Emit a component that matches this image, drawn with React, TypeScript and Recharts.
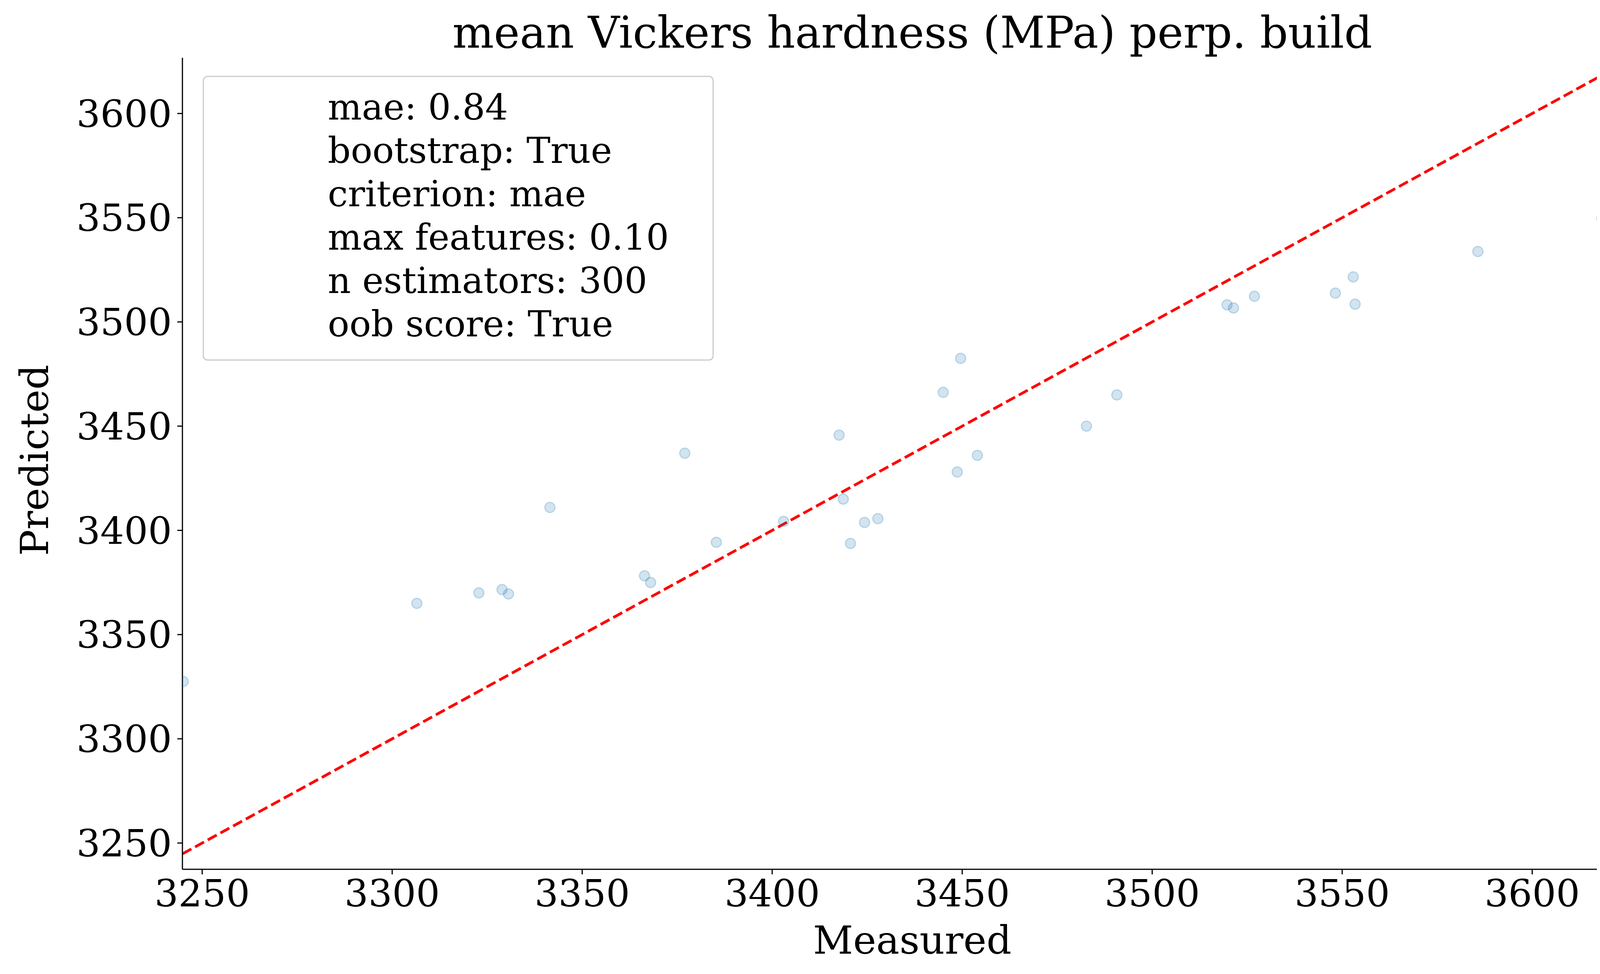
import React from "react";
import { ScatterChart, Scatter, XAxis, YAxis, ReferenceLine } from "recharts";

const measured = [
  3245, 3306.5, 3322.8, 3328.9, 3330.6, 3341.5, 3366.4, 3368, 3377, 3385.3, 3403,
  3417.6, 3418.7, 3420.6, 3424.3, 3427.8, 3445, 3448.7, 3449.6, 3454, 3482.7,
  3490.7, 3519.7, 3521.4, 3526.9, 3548.2, 3552.9, 3553.4, 3585.7, 3618.3, 3626,
];
const predicted = [
  3327.5, 3365, 3370, 3371.6, 3369.5, 3411, 3378.2, 3375, 3437, 3394.3, 3404.3,
  3445.7, 3415, 3393.7, 3403.8, 3405.6, 3466.2, 3428, 3482.5, 3436, 3450,
  3465, 3508.2, 3506.7, 3512.3, 3513.8, 3521.6, 3508.5, 3533.8, 3549.6, 3567,
];
const xTicks = [3250, 3300, 3350, 3400, 3450, 3500, 3550, 3600];
const yTicks = [3250, 3300, 3350, 3400, 3450, 3500, 3550, 3600];
const xDomain = [3244.8, 3627.4];
const yDomain = [3237.4, 3626.7];
const legendLines = [
  "mae: 0.84",
  "bootstrap: True",
  "criterion: mae",
  "max features: 0.10",
  "n estimators: 300",
  "oob score: True",
];

const points = measured.map((m, i) => ({ x: m, y: predicted[i] }));

const FONT = "'DejaVu Serif', serif";
const W = 4209;
const H = 2485;

export default function App() {
  const tickStyle = { fontFamily: FONT, fontSize: 96, fill: "#000" };
  return (
    <div style={{ position: "relative", width: W, height: H, fontFamily: FONT }}>
      <ScatterChart width={W} height={H} margin={{ top: 140, right: 28, bottom: 0, left: 0 }}>
        <XAxis
          type="number"
          dataKey="x"
          domain={xDomain}
          ticks={xTicks}
          allowDataOverflow
          height={268}
          tick={tickStyle}
          tickSize={13}
          tickMargin={14}
          axisLine={{ stroke: "#000", strokeWidth: 3 }}
          tickLine={{ stroke: "#000", strokeWidth: 3 }}
        />
        <YAxis
          type="number"
          dataKey="y"
          domain={yDomain}
          ticks={yTicks}
          allowDataOverflow
          width={459}
          tick={tickStyle}
          tickSize={13}
          tickMargin={14}
          axisLine={{ stroke: "#000", strokeWidth: 3 }}
          tickLine={{ stroke: "#000", strokeWidth: 3 }}
        />
        <ReferenceLine
          segment={[
            { x: xDomain[0], y: xDomain[0] },
            { x: xDomain[1], y: xDomain[1] },
          ]}
          stroke="#ff0000"
          strokeWidth={7}
          strokeDasharray="26 11"
          ifOverflow="hidden"
        />
        <Scatter
          data={points}
          isAnimationActive={false}
          shape={(p: any) => (
            <circle
              cx={p.cx}
              cy={p.cy}
              r={13}
              fill="#1f77b4"
              fillOpacity={0.2}
              stroke="#1f77b4"
              strokeOpacity={0.25}
              strokeWidth={3}
            />
          )}
        />
      </ScatterChart>
      <div style={{ position: "absolute", left: 0, width: 4655, top: 10, textAlign: "center", fontSize: 112 }}>
        mean Vickers hardness (MPa) perp. build
      </div>
      <div style={{ position: "absolute", left: 0, width: 4655, top: 2340, textAlign: "center", fontSize: 100 }}>
        Measured
      </div>
      <div
        style={{
          position: "absolute",
          left: 80,
          top: 1170,
          fontSize: 100,
          transform: "translate(-50%, -50%) rotate(-90deg)",
          whiteSpace: "nowrap",
        }}
      >
        Predicted
      </div>
      <div
        style={{
          position: "absolute",
          left: 511,
          top: 186,
          width: 1308,
          height: 729,
          border: "3px solid #ccc",
          borderRadius: 12,
          background: "rgba(255,255,255,0.8)",
          boxSizing: "border-box",
          paddingLeft: 317,
          paddingTop: 22,
          fontSize: 92,
          lineHeight: "111px",
        }}
      >
        {legendLines.map((l) => (
          <div key={l}>{l}</div>
        ))}
      </div>
    </div>
  );
}
